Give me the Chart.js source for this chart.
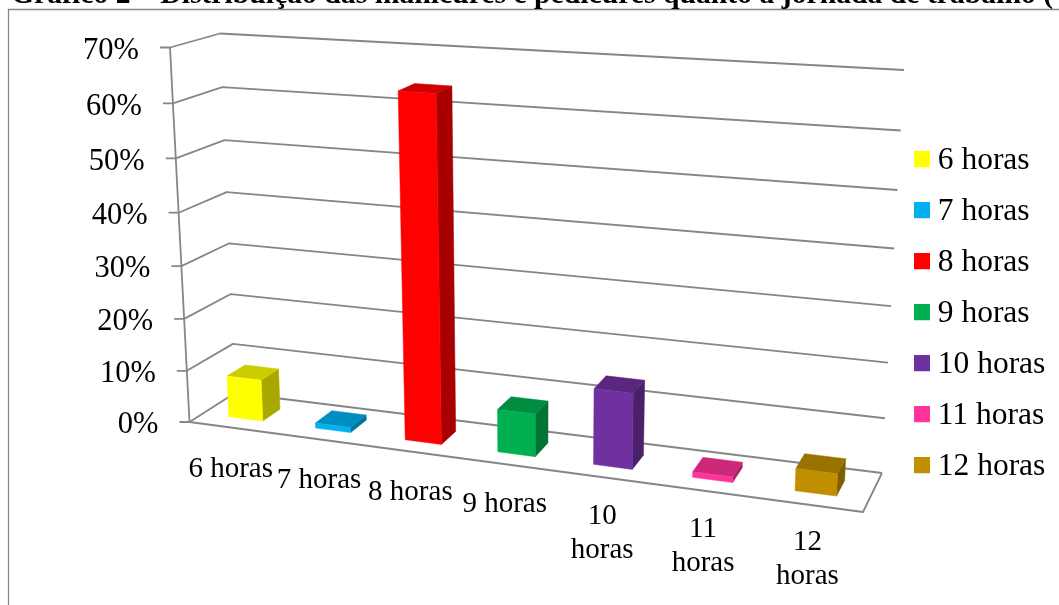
<!DOCTYPE html>
<html><head><meta charset="utf-8">
<style>html,body{margin:0;padding:0;background:#fff;overflow:hidden}#wrap{position:absolute;left:0;top:0;width:1059px;height:605px}</style>
<script src="https://cdn.jsdelivr.net/npm/chart.js@4"></script>
</head><body><div id="wrap"><canvas id="c" width="1059" height="605"></canvas></div>
<script>
const titleText = 'Gráfico 2 – Distribuição das manicures e pedicures quanto à jornada de trabalho (';
const categories = ['6 horas','7 horas','8 horas','9 horas','10 horas','11 horas','12 horas'];
const tickLabels = ['6 horas','7 horas','8 horas','9 horas',['10','horas'],['11','horas'],['12','horas']];
const values = [8,1,64,8,14,1,4];
const colors = ['#FFFF00','#00B0F0','#FF0000','#00B050','#7030A0','#FF3399','#BF8F00'];
const FONT = '"Liberation Serif"';
const GRID = '#868686';

// perspective frame of the 3D box: (x,y) of [u=0 v=0], [u=1 v=0], [u=1 v=1], [u=0 v=1]
const frontQuad = [[189.5,422],[863,512],[881,94],[170,47.5]];
const backQuad  = [[235,393],[882,473],[904,70],[220,33.5]];
function homography(q){
  const [[x0,y0],[x1,y1],[x2,y2],[x3,y3]] = q;
  const dx1=x1-x2,dx2=x3-x2,sx=x0-x1+x2-x3,dy1=y1-y2,dy2=y3-y2,sy=y0-y1+y2-y3;
  const den=dx1*dy2-dx2*dy1, g=(sx*dy2-dx2*sy)/den, h=(dx1*sy-sx*dy1)/den;
  const a=x1-x0+g*x1,b=x3-x0+h*x3,d=y1-y0+g*y1,e=y3-y0+h*y3;
  return (u,v)=>{const w=g*u+h*v+1;return [(a*u+b*v+x0)/w,(d*u+e*v+y0)/w];};
}
const hF=homography(frontQuad), hB=homography(backQuad);
function P(u,v,d){const f=hF(u,v),b=hB(u,v);return [f[0]+(b[0]-f[0])*d,f[1]+(b[1]-f[1])*d];}
function shade(hex,k){const n=parseInt(hex.slice(1),16);
  return 'rgb('+[(n>>16)&255,(n>>8)&255,n&255].map(c=>Math.round(c*k)).join(',')+')';}
function poly(ctx,pts,fill){ctx.beginPath();pts.forEach((p,i)=>i?ctx.lineTo(p[0],p[1]):ctx.moveTo(p[0],p[1]));ctx.closePath();ctx.fillStyle=fill;ctx.fill();ctx.strokeStyle=fill;ctx.lineWidth=.5;ctx.stroke();}
function line(ctx,pts){ctx.beginPath();pts.forEach((p,i)=>i?ctx.lineTo(p[0],p[1]):ctx.moveTo(p[0],p[1]));ctx.stroke();}
function swatch(color){const s=document.createElement('canvas');s.width=16;s.height=18;const g=s.getContext('2d');g.fillStyle=color;g.fillRect(0,0,16,16);return s;}
const D0=.3,D1=.7;

const box3d={id:'box3d',
  afterLayout(chart){const l=chart.legend;l.left=922-19.5;l.top=125;},
  beforeDatasetsDraw(chart){
    const {ctx,scales:{x,y},chartArea:a}=chart;
    const vOf=py=>(a.bottom-py)/(a.bottom-a.top);
    ctx.save();
    // frame and title
    ctx.strokeStyle=GRID;ctx.lineWidth=1.3;
    line(ctx,[[8.5,605],[8.5,9.5],[1059,9.5]]);
    ctx.fillStyle='#000';ctx.font='bold 29.7px '+FONT;ctx.textAlign='left';ctx.textBaseline='alphabetic';
    ctx.fillText(titleText,11,3);
    // walls, gridlines, ticks, tick labels
    ctx.strokeStyle=GRID;ctx.lineWidth=1.8;ctx.lineJoin='round';
    y.ticks.forEach((t,i)=>{
      const v=vOf(y.getPixelForTick(i)),p=P(0,v,0);
      line(ctx,[[p[0]-10,p[1]],p,P(0,v,1),P(1,v,1)]);
      ctx.fillStyle='#000';ctx.font='30.5px '+FONT;ctx.textAlign='right';ctx.textBaseline='middle';
      ctx.fillText(t.label,p[0]-31,p[1]+3.3);
    });
    line(ctx,[P(0,1,0),P(0,0,0),P(1,0,0),P(1,0,1)]);
    // category labels
    ctx.fillStyle='#000';ctx.font='29px '+FONT;ctx.textAlign='center';ctx.textBaseline='middle';
    x.ticks.forEach((t,i)=>{
      const u=(x.getPixelForTick(i)-a.left)/(a.right-a.left),p=P(u,0,0);
      [].concat(t.label).forEach((s,j)=>ctx.fillText(s,p[0]-2,p[1]+42.4-5.5*u+j*34.5));
    });
    ctx.restore();
  },
  beforeDatasetDraw(chart,args){
    const {ctx,chartArea:a}=chart;
    const W=a.right-a.left,vOf=py=>(a.bottom-py)/(a.bottom-a.top);
    args.meta.data.forEach((b,i)=>{
      const u0=(b.x-b.width/2-a.left)/W,u1=(b.x+b.width/2-a.left)/W,v0=vOf(b.base),v1=vOf(b.y),c=colors[i];
      poly(ctx,[P(u1,v0,D0),P(u1,v0,D1),P(u1,v1,D1),P(u1,v1,D0)],shade(c,.66));
      poly(ctx,[P(u0,v1,D0),P(u1,v1,D0),P(u1,v1,D1),P(u0,v1,D1)],shade(c,.8));
      poly(ctx,[P(u0,v0,D0),P(u1,v0,D0),P(u1,v1,D0),P(u0,v1,D0)],c);
    });
    return false;
  }
};
new Chart(document.getElementById('c'),{
  type:'bar',
  data:{labels:tickLabels,datasets:[{label:'Jornada',data:values,backgroundColor:colors,barPercentage:.395,categoryPercentage:1}]},
  options:{responsive:false,animation:false,devicePixelRatio:1,
    layout:{padding:{top:40,bottom:40,left:170,right:10}},
    scales:{
      x:{grid:{display:false},border:{display:false},ticks:{display:false,maxRotation:0,autoSkip:false}},
      y:{min:0,max:70,grid:{display:false},border:{display:false},ticks:{display:false,stepSize:10,callback:v=>v+'%'}}
    },
    plugins:{tooltip:{enabled:false},title:{display:false},
      legend:{position:'right',align:'start',labels:{
        usePointStyle:true,boxWidth:.01,boxHeight:16,padding:19.5,color:'#000',
        font:{family:FONT,size:31.5},
        generateLabels:()=>categories.map((t,i)=>({text:t,fillStyle:colors[i],strokeStyle:colors[i],lineWidth:0,pointStyle:swatch(colors[i]),datasetIndex:0,index:i}))
      }}
    }
  },
  plugins:[box3d]
});
</script></body></html>
